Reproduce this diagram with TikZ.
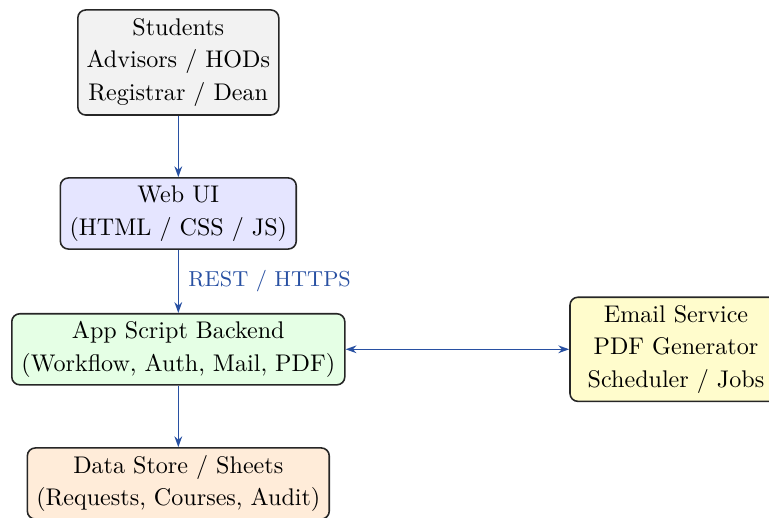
\documentclass[tikz,border=0pt]{standalone}
\usetikzlibrary{arrows.meta}
\definecolor{linkblue}{RGB}{40,80,162}
\begin{document}
\begin{tikzpicture}[x=0.415pt,y=-0.415pt,
  box/.style={draw=black!85, line width=0.65pt, rounded corners=3.3pt,
    align=center, inner xsep=3pt, inner ysep=2pt,
    font=\fontsize{10}{13.5}\selectfont},
  link/.style={draw=linkblue, line width=0.65pt, -{Stealth[length=4.5pt,width=3.2pt]}},
  biglink/.style={draw=linkblue, line width=0.65pt, {Stealth[length=4.5pt,width=3.2pt]}-{Stealth[length=4.5pt,width=3.2pt]}}]
  \useasboundingbox (0,0) rectangle (769,518);

  % components
  \node[box, fill=black!5, minimum width=83.4pt, minimum height=43.6pt] (users) at (178.3,62.5)
    {Students\\Advisors / HODs\\Registrar / Dean};
  \node[box, fill=blue!10, minimum width=97.9pt, minimum height=29.5pt] (web) at (178.3,213.5)
    {Web UI\\(HTML / CSS / JS)};
  \node[box, fill=green!10, minimum width=138.2pt, minimum height=29.5pt] (backend) at (178.3,349.3)
    {App Script Backend\\(Workflow, Auth, Mail, PDF)};
  \node[box, fill=yellow!20, minimum width=88pt, minimum height=43.2pt] (svc) at (676,349.3)
    {Email Service\\PDF Generator\\Scheduler / Jobs};
  \node[box, fill=orange!15, minimum width=125.3pt, minimum height=29.5pt] (data) at (178.3,483.5)
    {Data Store / Sheets\\(Requests, Courses, Audit)};

  % connections
  \draw[link] (users) -- (web);
  \draw[link] (web) -- node[right, text=linkblue, font=\small, xshift=0.5pt] (rest) {REST / HTTPS} (backend);
  \draw[biglink] (backend) -- (svc);
  \draw[link] (backend) -- (data);
\end{tikzpicture}
\end{document}
